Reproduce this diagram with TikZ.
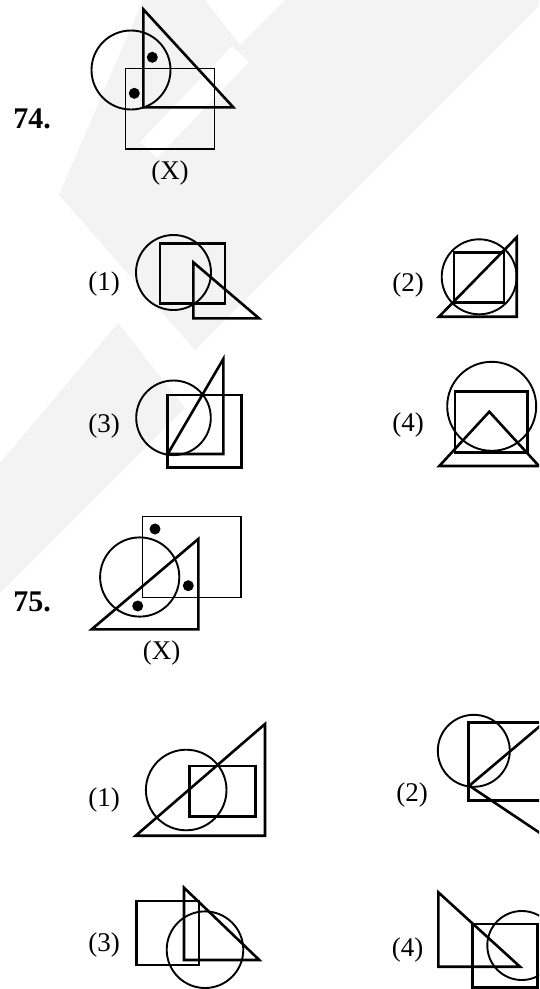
\documentclass[tikz,border=0pt]{standalone}
\usepackage{fontspec}
\setmainfont{Liberation Serif}
\definecolor{wm}{HTML}{F3F3F3}
\begin{document}
\begin{tikzpicture}[x=1pt,y=-1pt,
  thinl/.style={line width=1.2pt},
  thickl/.style={line width=2.6pt, line join=miter},
  circl/.style={line width=1.9pt},
  lbl/.style={font=\fontsize{27}{32}\selectfont, inner sep=0pt},
  qnum/.style={font=\fontsize{30}{34}\selectfont\bfseries, inner sep=0pt},
  dotf/.style={fill=black}]
\useasboundingbox (0,0) rectangle (539,989);
\clip (0,0) rectangle (539,989);
\fill[white] (0,0) rectangle (539,989);

% ---------- faint watermark ----------
\fill[wm] (143,0) -- (205,0) -- (240,45) -- (285,0) -- (539,0) -- (539,6)
  -- (195,350) -- (59,195) -- cycle;
\fill[white] (140,142) -- (232,46) -- (249,62) -- (157,158) -- cycle;
\fill[wm] (118,323) -- (185,408) -- (0,593) -- (0,463) -- cycle;

% ---------- Question 74 ----------
\node[qnum] (q74) at (32,119) {74.};
\draw[circl] (131,70) circle[radius=39.5pt];
\draw[thinl] (125.7,68.3) rectangle (214.3,149);
\draw[thickl] (143.3,9.3) -- (143.3,107.3) -- (233.3,107.3) -- cycle;
\fill[dotf] (152.3,57.3) circle[radius=5.5pt];
\fill[dotf] (134.3,93.3) circle[radius=5.5pt];
\node[lbl] (x74) at (170,173) {(X)};

% option 1
\node[lbl] (a1) at (104,284) {(1)};
\draw[circl] (173.5,272.5) circle[radius=37.5pt];
\draw[thickl] (160,243.3) rectangle (225,303.3);
\draw[thickl] (193.3,262.3) -- (193.3,318.3) -- (259,318.3) -- cycle;

% option 2
\node[lbl] (a2) at (408,285) {(2)};
\draw[circl] (479.2,276.8) circle[radius=37.5pt];
\draw[thickl] (454,252.3) rectangle (504,302.3);
\draw[thickl] (516.7,237.3) -- (516.7,316.7) -- (439,316.7) -- cycle;

% option 3
\node[lbl] (a3) at (104,425.7) {(3)};
\draw[circl] (173.5,417.8) circle[radius=37.3pt];
\draw[thickl] (223.3,359) -- (223.3,454) -- (167.7,454) -- cycle;
\draw[thickl] (167.7,395) rectangle (241.7,467.3);

% option 4
\node[lbl] (a4) at (408,425) {(4)};
\draw[circl] (491.7,406.3) circle[radius=44.5pt];
\draw[thickl] (455,391.7) rectangle (527.7,452.7);
\draw[thickl] (489.3,411.7) -- (439.3,466) -- (539,466) -- cycle;

% ---------- Question 75 ----------
\node[qnum] (q75) at (32,602) {75.};
\draw[thinl] (142.3,516.7) rectangle (241,597.3);
\draw[circl] (139.7,577) circle[radius=39.6pt];
\draw[thickl] (198.3,539) -- (198.3,629.3) -- (91.7,629.3) -- cycle;
\fill[dotf] (155,529) circle[radius=5.5pt];
\fill[dotf] (188.3,585.7) circle[radius=5.5pt];
\fill[dotf] (137.7,606) circle[radius=5.5pt];
\node[lbl] (x75) at (161.7,653) {(X)};

% option 1
\node[lbl] (b1) at (104,800) {(1)};
\draw[circl] (186.2,790) circle[radius=40.3pt];
\draw[thickl] (189.3,766) rectangle (255.7,816.7);
\draw[thickl] (265,724) -- (265,835.7) -- (135.7,835.7) -- cycle;

% option 2
\node[lbl] (b2) at (412,795) {(2)};
\draw[circl] (473.8,750.8) circle[radius=36pt];
\draw[thickl] (560,722.3) -- (468.3,722.3) -- (468.3,800.7) -- (560,800.7);
\coordinate (v2) at (469.3,785.7);
\draw[thickl] (560,709.2) -- (v2) -- (560,846.4);

% option 3
\node[lbl] (b3) at (104,945) {(3)};
\draw[thickl] (136.7,901) rectangle (199,965);
\draw[thickl] (184,887.7) -- (184,960) -- (259.3,960) -- cycle;
\draw[circl] (205,949.7) circle[radius=38.3pt];

% option 4
\node[lbl] (b4) at (407.7,950) {(4)};
\draw[thickl] (438.3,892.3) -- (438.3,966.7) -- (520,966.7) -- cycle;
\draw[thickl] (472.3,924) rectangle (537.5,987.3);
\draw[circl] (521.8,945.5) circle[radius=34.5pt];
\end{tikzpicture}
\end{document}
